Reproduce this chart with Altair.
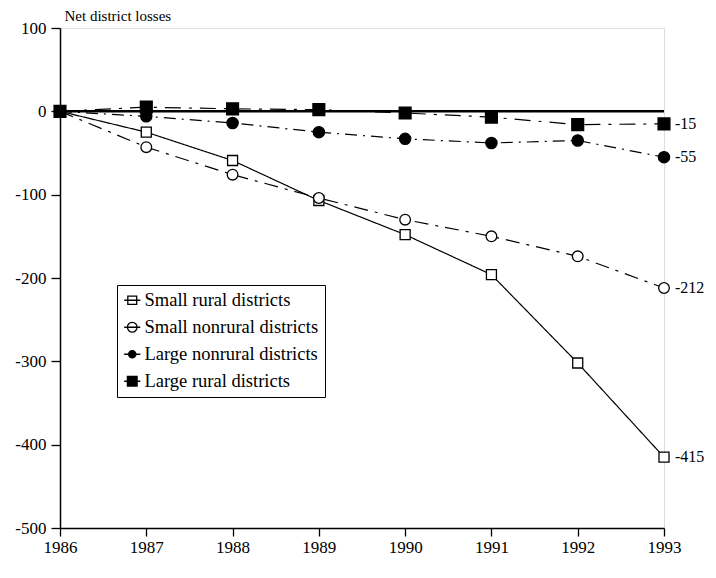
import altair as alt
import pandas as pd

years = [1986, 1987, 1988, 1989, 1990, 1991, 1992, 1993]
series_names = ["Small rural districts", "Small nonrural districts",
                "Large nonrural districts", "Large rural districts"]
small_rural = [0, -25, -59, -107, -148, -196, -302, -415]
small_nonrural = [0, -43, -76, -104, -130, -150, -174, -212]
large_nonrural = [0, -6, -14, -25, -33, -38, -35, -55]
large_rural = [0, 5, 3, 2, -2, -7, -16, -15]
end_labels = ["-415", "-212", "-55", "-15"]
y_ticks = [100, 0, -100, -200, -300, -400, -500]

rows = []
for name, vals in zip(series_names, [small_rural, small_nonrural, large_nonrural, large_rural]):
    for yr, v in zip(years, vals):
        rows.append({"year": yr, "value": v, "series": name})
df = pd.DataFrame(rows)

end_df = pd.DataFrame({
    "year": [years[-1]] * 4,
    "value": [small_rural[-1], small_nonrural[-1], large_nonrural[-1], large_rural[-1]],
    "label": end_labels,
})
zero_df = pd.DataFrame({"year": [years[0], years[-1]], "value": [0, 0]})
legend_df = df[df["year"] == years[0]]

FONT = "Liberation Serif"

x = alt.X("year:Q", scale=alt.Scale(domain=[1986, 1993], nice=False, zero=False),
          axis=alt.Axis(values=years, format="d", title=None, grid=False,
                        labelFont=FONT, labelFontSize=17, labelColor="black",
                        domainColor="black", domainWidth=1.5, tickColor="black",
                        tickWidth=1.3, tickSize=8, labelPadding=3, labelFlush=False))
y = alt.Y("value:Q", scale=alt.Scale(domain=[-500, 100], nice=False),
          axis=alt.Axis(values=y_ticks, title="Net district losses", grid=False,
                        labelExpr="'' + datum.value",
                        labelFont=FONT, labelFontSize=17, labelColor="black",
                        domainColor="black", domainWidth=1.5, tickColor="black",
                        tickWidth=1.3, tickSize=9, labelPadding=5,
                        titleFont=FONT, titleFontSize=15, titleFontWeight="normal",
                        titleColor="black", titleAngle=0, titleAlign="left",
                        titleBaseline="bottom", titleX=4, titleY=-5))

zero_line = alt.Chart(zero_df).mark_line(color="black", strokeWidth=2.5).encode(x=x, y=y)

lines = alt.Chart(df).mark_line(color="black", strokeWidth=1.2).encode(
    x=x, y=y,
    strokeDash=alt.StrokeDash("series:N", scale=alt.Scale(
        domain=series_names,
        range=[[1, 0], [14, 7, 3, 7], [12, 6, 2, 6], [16, 8, 3, 8]]), legend=None),
    detail="series:N",
)

points = alt.Chart(df).mark_point(strokeWidth=1.3, opacity=1, color="black").encode(
    x=x, y=y,
    shape=alt.Shape("series:N", scale=alt.Scale(domain=series_names,
                    range=["square", "circle", "circle", "square"]), legend=None),
    fill=alt.Fill("series:N", scale=alt.Scale(domain=series_names,
                  range=["white", "white", "black", "black"]), legend=None),
    size=alt.Size("series:N", scale=alt.Scale(domain=series_names,
                  range=[100, 140, 70, 150]), legend=None),
)

legend = alt.Legend(title=None, orient="none", legendX=57, legendY=257,
                    labelFont=FONT, labelFontSize=18.5, labelColor="black",
                    labelLimit=400,
                    strokeColor="black", padding=6, rowPadding=8,
                    symbolStrokeColor="black", symbolStrokeWidth=1.3,
                    symbolOpacity=1, symbolSize=260, labelOffset=3)

legend_paths = [
    "M-1,0H1M-0.55,-0.5H0.55V0.5H-0.55Z",
    "M-1,0H1M0.6,0A0.6,0.6 0 1,1 -0.6,0A0.6,0.6 0 1,1 0.6,0Z",
    "M-1,0H1M0.45,0A0.45,0.45 0 1,1 -0.45,0A0.45,0.45 0 1,1 0.45,0Z",
    "M-1,0H1M-0.6,-0.6H0.6V0.6H-0.6Z",
]

legend_layer = alt.Chart(legend_df).mark_point(opacity=0, size=260, strokeWidth=1.3).encode(
    x=x, y=y,
    shape=alt.Shape("series:N", scale=alt.Scale(domain=series_names, range=legend_paths),
                    legend=legend),
    fill=alt.Fill("series:N", scale=alt.Scale(domain=series_names,
                  range=["white", "white", "black", "black"]), legend=legend),
    stroke=alt.Stroke("series:N", scale=alt.Scale(domain=series_names,
                      range=["black", "black", "black", "black"]), legend=legend),
)

labels = alt.Chart(end_df).mark_text(align="left", baseline="middle", dx=11,
                                     font=FONT, fontSize=16, color="black").encode(
    x=x, y=y, text="label:N")

chart = alt.layer(zero_line, lines, points, legend_layer, labels).resolve_scale(
    shape="independent", fill="independent", stroke="independent",
    strokeDash="independent"
).resolve_legend(
    shape="independent", fill="independent", stroke="independent",
    strokeDash="independent"
).properties(
    width=604, height=500,
    autosize=alt.AutoSizeParams(type="none"),
    padding={"left": 52, "top": 20, "right": 40, "bottom": 34},
).configure_view(stroke=None).configure(background="white")

chart.save("out.html", embed_options={"renderer": "svg", "actions": False})
